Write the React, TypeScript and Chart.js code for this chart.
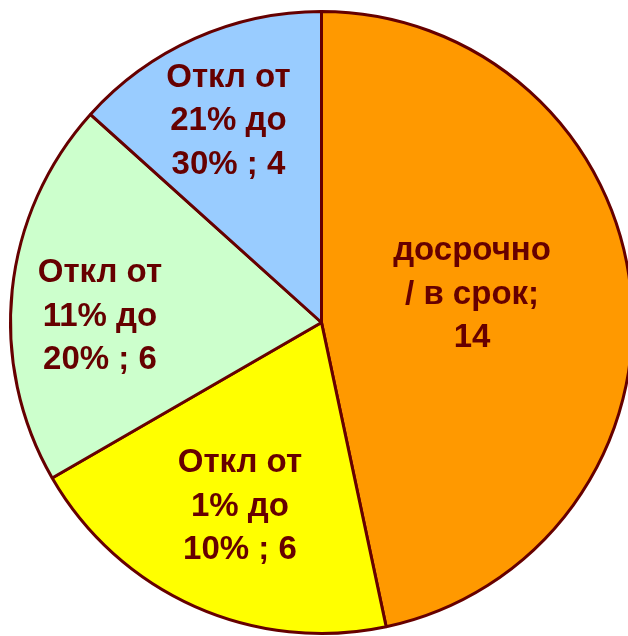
import React, { useEffect, useRef } from "react";
import { Chart, registerables } from "chart.js";

Chart.register(...registerables);

const categories: string[][] = [
  ["досрочно", "/ в срок;", "14"],
  ["Откл от", "1% до", "10% ; 6"],
  ["Откл от", "11% до", "20% ; 6"],
  ["Откл от", "21% до", "30% ; 4"],
];
const values: number[] = [14, 6, 6, 4];
const colors: string[] = ["#FF9900", "#FFFF00", "#CCFFCC", "#99CCFF"];

// label placement along each slice's mid-angle (fraction of radius) plus a small nudge
const labelFrac = [0.49, 0.645, 0.71, 0.72];
const labelNudge = [
  [-1, -12],
  [0, 1],
  [-2, 17],
  [-2, 3],
];

const labelPlugin = {
  id: "sliceLabels",
  afterDatasetsDraw(chart: any) {
    const { ctx } = chart;
    const meta = chart.getDatasetMeta(0);
    ctx.save();
    ctx.font = "bold 33px 'Liberation Sans', Arial, sans-serif";
    ctx.fillStyle = "#660000";
    ctx.textAlign = "center";
    ctx.textBaseline = "middle";
    const lineH = 43.5;
    meta.data.forEach((arc: any, i: number) => {
      const { x, y, startAngle, endAngle, outerRadius } = arc.getProps(
        ["x", "y", "startAngle", "endAngle", "outerRadius"],
        true
      );
      const mid = (startAngle + endAngle) / 2;
      const r = outerRadius * labelFrac[i];
      const cx = x + Math.cos(mid) * r + labelNudge[i][0];
      const cy = y + Math.sin(mid) * r + labelNudge[i][1];
      const lines = categories[i];
      lines.forEach((ln, k) => {
        ctx.fillText(ln, cx, cy + (k - (lines.length - 1) / 2) * lineH);
      });
    });
    ctx.restore();
  },
};

export default function App() {
  const ref = useRef<HTMLCanvasElement | null>(null);
  useEffect(() => {
    if (!ref.current) return;
    const chart = new Chart(ref.current, {
      type: "pie",
      data: {
        labels: categories.map((c) => c.join(" ")),
        datasets: [
          {
            data: values,
            backgroundColor: colors,
            borderColor: "#660000",
            borderWidth: 3,
            hoverOffset: 0,
          },
        ],
      },
      options: {
        animation: false,
        responsive: false,
        radius: 311,
        layout: { padding: 0 },
        plugins: {
          legend: { display: false },
          tooltip: { enabled: false },
        },
      } as any,
      plugins: [labelPlugin],
    });
    return () => chart.destroy();
  }, []);
  return (
    <div
      style={{
        position: "fixed",
        left: 0,
        top: 0,
        width: 628,
        height: 636,
        overflow: "hidden",
        background: "#ffffff",
      }}
    >
      <canvas
        ref={ref}
        width={643}
        height={645}
        style={{ position: "absolute", left: 0, top: 0, width: 643, height: 645 }}
      />
    </div>
  );
}
